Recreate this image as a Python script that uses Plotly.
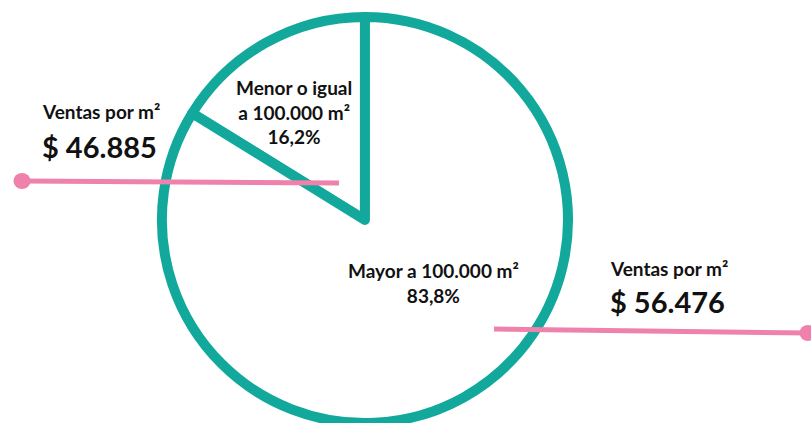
import plotly.graph_objects as go

# Data
categories = ["Menor o igual<br>a 100.000 m²", "Mayor a 100.000 m²"]
shares = [16.2, 83.8]
share_labels = ["16,2%", "83,8%"]
sales_title = "Ventas por m²"
sales_values = ["$ 46.885", "$ 56.476"]

TEAL = "#12A99C"
PINK = "#EE82AD"
FONT = "Lato"
W, H = 811, 423

fig = go.Figure()

# invisible trace to establish pixel-like axes
fig.add_trace(go.Scatter(x=[0, W], y=[0, H], mode="markers",
                         marker=dict(opacity=0), hoverinfo="skip", showlegend=False))

fig.add_trace(go.Pie(
    labels=[c.replace("<br>", " ") for c in categories],
    values=shares,
    sort=False,
    direction="clockwise",
    rotation=-360 * shares[0] / sum(shares),
    textinfo="none",
    hoverinfo="label+percent",
    marker=dict(colors=["white", "white"], line=dict(color=TEAL, width=10)),
    domain=dict(x=[0, 0.9], y=[0, 0.96]),
    showlegend=False,
))

# connector lines (pixel layout positions)
left_line_x = [22, 339]
left_line_y = [181, 183]
right_line_x = [494, 808]
right_line_y = [329, 333]
dot_d = 17

shapes = []
for lx, ly, dot_idx in [(left_line_x, left_line_y, 0), (right_line_x, right_line_y, 1)]:
    shapes.append(dict(type="line", xref="x", yref="y", layer="above",
                       x0=lx[0], y0=ly[0], x1=lx[1], y1=ly[1],
                       line=dict(color=PINK, width=5)))
    cx, cy = lx[dot_idx], ly[dot_idx]
    shapes.append(dict(type="circle", xref="x", yref="y", layer="above",
                       x0=cx - dot_d / 2, x1=cx + dot_d / 2,
                       y0=cy - dot_d / 2 + 0.5, y1=cy + dot_d / 2 - 0.5,
                       fillcolor=PINK, line=dict(width=0)))

annotations = []
# slice labels
slice_pos = [(294, 112), (433, 283)]
for cat, lab, (px, py) in zip(categories, share_labels, slice_pos):
    annotations.append(dict(
        x=px, y=py, xref="x", yref="y", text=f"<b>{cat}<br>{lab}</b>",
        showarrow=False, xanchor="center", yanchor="middle", align="center",
        font=dict(family=FONT, size=19, color="#111111"),
    ))

# sales blocks
block_pos = [(40, 111, 146), (608, 268, 301)]
for val, (px, ty, vy) in zip(sales_values, block_pos):
    annotations.append(dict(
        x=px, y=ty, xref="x", yref="y", text=f"<b>{sales_title}</b>",
        showarrow=False, xanchor="left", yanchor="middle",
        font=dict(family=FONT, size=19, color="#111111"),
    ))
    annotations.append(dict(
        x=px, y=vy, xref="x", yref="y", text=f"<b>{val}</b>",
        showarrow=False, xanchor="left", yanchor="middle",
        font=dict(family=FONT, size=29, color="#111111"),
    ))

fig.update_layout(
    width=W, height=H,
    margin=dict(l=0, r=0, t=0, b=0),
    paper_bgcolor="white", plot_bgcolor="rgba(0,0,0,0)",
    xaxis=dict(range=[0, W], visible=False, fixedrange=True),
    yaxis=dict(range=[H, 0], visible=False, fixedrange=True),
    annotations=annotations,
    shapes=shapes,
    font=dict(family=FONT),
)

fig.write_html("out.html", config={"displayModeBar": False},
               post_script="document.body.style.margin='0';")
